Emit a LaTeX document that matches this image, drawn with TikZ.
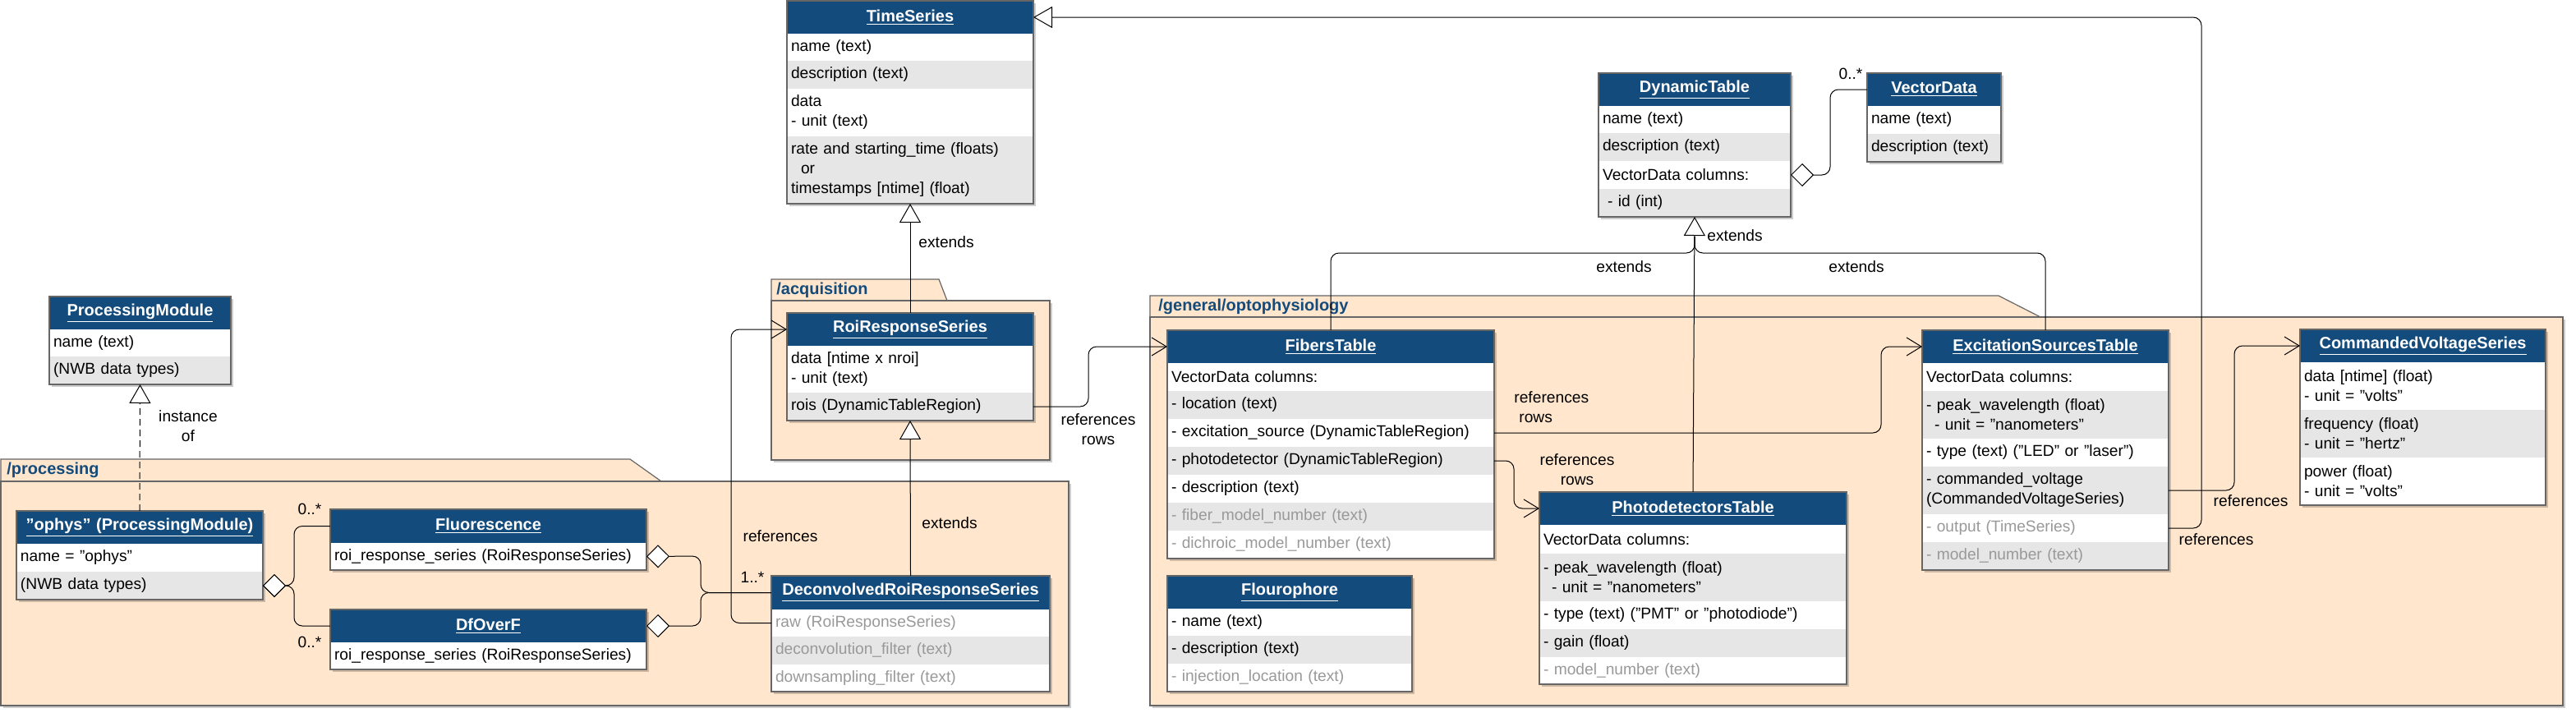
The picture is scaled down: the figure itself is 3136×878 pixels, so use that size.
\documentclass[tikz,border=0pt]{standalone}
\usepackage{fontspec}
\setmainfont{Liberation Sans}
\usetikzlibrary{arrows.meta,calc}
\definecolor{hdrblue}{HTML}{134B7C}
\definecolor{peach}{HTML}{FFE6CC}
\definecolor{rowgray}{HTML}{E6E6E6}
\definecolor{txtgray}{HTML}{999999}
\definecolor{edgegray}{HTML}{666666}
\newcommand\cell[7]{%
 \pgfmathsetlengthmacro\cw{0.5*(#4-#2)-5}%
 \pgfmathsetlengthmacro\ch{0.5*(#5-#3)}%
 \node[cellbase,#6,text width=\cw,minimum height=\ch] (#1) at (#2,#3) {#7};}
\newcommand\boxshadow[4]{\fill[black,opacity=0.2] (#1+3,#2+3) rectangle (#3+3,#4+3);}
\newcommand\boxline[4]{\draw[edgegray,line width=0.6pt] (#1,#2) rectangle (#3,#4);}
\newcommand\hd[1]{\underline{#1}}
\newcommand\bodyfont{\fontsize{9.6}{12}\selectfont\hyphenpenalty=10000 }
\newcommand\headfont{\fontsize{10}{12}\selectfont\bfseries\hyphenpenalty=10000 }
\tikzset{
 cellbase/.style={anchor=north west,inner xsep=2.5pt,inner ysep=0pt,outer sep=0pt,
   font=\bodyfont,align=left},
 hdr/.style={fill=hdrblue,text=white,font=\headfont,align=center},
 wr/.style={fill=white},
 gr/.style={fill=rowgray},
 dim/.style={text=txtgray},
 conn/.style={draw=black,line width=0.5pt,rounded corners=5pt},
 ext/.style={conn,-{Triangle[fill=white,length=11.5pt,width=13pt]}},
 refa/.style={conn,-{Straight Barb[length=9pt,width=11pt]}},
 agg/.style={conn,-{Diamond[fill=white,length=14pt,width=14pt]}},
 lbl/.style={font=\bodyfont,inner sep=0pt,align=center},
 pkgfill/.style={fill=peach,draw=edgegray,line width=0.6pt},
 pkglbl/.style={font=\headfont,text=hdrblue,inner sep=0pt,anchor=west},
}
\begin{document}
\begin{tikzpicture}[x=0.5pt,y=-0.5pt]
\useasboundingbox (0,0) rectangle (3136,878);
% ---------- packages ----------
\fill[black,opacity=0.2] (4,589) rectangle (1304,862);
\draw[pkgfill] (1,586) -- (1,559) -- (767,559) -- (805,586) -- cycle;
\draw[pkgfill] (1,586) rectangle (1301,859);
\node[pkglbl] (pkgproc) at (8,572) {/processing};
\fill[black,opacity=0.2] (942,369) rectangle (1281,563);
\draw[pkgfill] (939,366) -- (939,340) -- (1143,340) -- (1153,366) -- cycle;
\draw[pkgfill] (939,366) rectangle (1278,560);
\node[pkglbl] (pkgacq) at (945,353) {/acquisition};
\fill[black,opacity=0.2] (1403,389) rectangle (3123,862);
\draw[pkgfill] (1400,386) -- (1400,360) -- (2433,360) -- (2484,386) -- cycle;
\draw[pkgfill] (1400,386) rectangle (3120,859);
\node[pkglbl] (pkgopto) at (1410,373) {/general/optophysiology};
% ---------- classes ----------
% ProcessingModule
\boxshadow{60}{361}{281}{468}
\cell{pm-h}{60}{361}{281}{401}{hdr}{\hd{ProcessingModule}}
\cell{pm-1}{60}{401}{281}{434}{wr}{name (text)}
\cell{pm-2}{60}{434}{281}{468}{gr}{(NWB data types)}
\boxline{60}{361}{281}{468}
% ophys
\boxshadow{20}{622}{320}{730}
\cell{oph-h}{20}{622}{320}{662}{hdr}{\hd{"ophys" (ProcessingModule)}}
\cell{oph-1}{20}{662}{320}{696}{wr}{name = "ophys"}
\cell{oph-2}{20}{696}{320}{730}{gr}{(NWB data types)}
\boxline{20}{622}{320}{730}
% Fluorescence
\boxshadow{402}{620}{787}{694}
\cell{fl-h}{402}{620}{787}{661}{hdr}{\hd{Fluorescence}}
\cell{fl-1}{402}{661}{787}{694}{wr}{roi\_response\_series (RoiResponseSeries)}
\boxline{402}{620}{787}{694}
% DfOverF
\boxshadow{402}{742}{787}{815}
\cell{df-h}{402}{742}{787}{782}{hdr}{\hd{DfOverF}}
\cell{df-1}{402}{782}{787}{815}{wr}{roi\_response\_series (RoiResponseSeries)}
\boxline{402}{742}{787}{815}
% DeconvolvedRoiResponseSeries
\boxshadow{939}{701}{1278}{842}
\cell{dec-h}{939}{701}{1278}{742}{hdr}{\hd{DeconvolvedRoiResponseSeries}}
\cell{dec-1}{939}{742}{1278}{775}{wr,dim}{raw (RoiResponseSeries)}
\cell{dec-2}{939}{775}{1278}{809}{gr,dim}{deconvolution\_filter (text)}
\cell{dec-3}{939}{809}{1278}{842}{wr,dim}{downsampling\_filter (text)}
\boxline{939}{701}{1278}{842}
% TimeSeries
\boxshadow{958}{1}{1258}{248}
\cell{ts-h}{958}{1}{1258}{41}{hdr}{\hd{TimeSeries}}
\cell{ts-1}{958}{41}{1258}{74}{wr}{name (text)}
\cell{ts-2}{958}{74}{1258}{108}{gr}{description (text)}
\cell{ts-3}{958}{108}{1258}{166}{wr}{data\\- unit (text)}
\cell{ts-4}{958}{166}{1258}{248}{gr}{rate and starting\_time (floats)\\\hspace*{6pt}or\\timestamps [ntime] (float)}
\boxline{958}{1}{1258}{248}
% RoiResponseSeries
\boxshadow{958}{381}{1258}{512}
\cell{rrs-h}{958}{381}{1258}{421}{hdr}{\hd{RoiResponseSeries}}
\cell{rrs-1}{958}{421}{1258}{478}{wr}{data [ntime x nroi]\\- unit (text)}
\cell{rrs-2}{958}{478}{1258}{512}{gr}{rois (DynamicTableRegion)}
\boxline{958}{381}{1258}{512}
% DynamicTable
\boxshadow{1946}{89}{2180}{264}
\cell{dt-h}{1946}{89}{2180}{129}{hdr}{\hd{DynamicTable}}
\cell{dt-1}{1946}{129}{2180}{162}{wr}{name (text)}
\cell{dt-2}{1946}{162}{2180}{196}{gr}{description (text)}
\cell{dt-3}{1946}{196}{2180}{230}{wr}{VectorData columns:}
\cell{dt-4}{1946}{230}{2180}{264}{gr}{\hspace*{3pt}- id (int)}
\boxline{1946}{89}{2180}{264}
% VectorData
\boxshadow{2273}{89}{2436}{197}
\cell{vd-h}{2273}{89}{2436}{129}{hdr}{\hd{VectorData}}
\cell{vd-1}{2273}{129}{2436}{163}{wr}{name (text)}
\cell{vd-2}{2273}{163}{2436}{197}{gr}{description (text)}
\boxline{2273}{89}{2436}{197}
% FibersTable
\boxshadow{1421}{402}{1819}{680}
\cell{ft-h}{1421}{402}{1819}{442}{hdr}{\hd{FibersTable}}
\cell{ft-1}{1421}{442}{1819}{476}{wr}{VectorData columns:}
\cell{ft-2}{1421}{476}{1819}{510}{gr}{- location (text)}
\cell{ft-3}{1421}{510}{1819}{544}{wr}{- excitation\_source (DynamicTableRegion)}
\cell{ft-4}{1421}{544}{1819}{578}{gr}{- photodetector (DynamicTableRegion)}
\cell{ft-5}{1421}{578}{1819}{612}{wr}{- description (text)}
\cell{ft-6}{1421}{612}{1819}{646}{gr,dim}{- fiber\_model\_number (text)}
\cell{ft-7}{1421}{646}{1819}{680}{wr,dim}{- dichroic\_model\_number (text)}
\boxline{1421}{402}{1819}{680}
% Flourophore
\boxshadow{1421}{701}{1719}{842}
\cell{fp-h}{1421}{701}{1719}{741}{hdr}{\hd{Flourophore}}
\cell{fp-1}{1421}{741}{1719}{774}{wr}{- name (text)}
\cell{fp-2}{1421}{774}{1719}{808}{gr}{- description (text)}
\cell{fp-3}{1421}{808}{1719}{842}{wr,dim}{- injection\_location (text)}
\boxline{1421}{701}{1719}{842}
% PhotodetectorsTable
\boxshadow{1874}{599}{2248}{833}
\cell{pd-h}{1874}{599}{2248}{639}{hdr}{\hd{PhotodetectorsTable}}
\cell{pd-1}{1874}{639}{2248}{674}{wr}{VectorData columns:}
\cell{pd-2}{1874}{674}{2248}{732}{gr}{- peak\_wavelength (float)\\\hspace*{5pt}- unit = "nanometers"}
\cell{pd-3}{1874}{732}{2248}{766}{wr}{- type (text) ("PMT" or "photodiode")}
\cell{pd-4}{1874}{766}{2248}{800}{gr}{- gain (float)}
\cell{pd-5}{1874}{800}{2248}{833}{wr,dim}{- model\_number (text)}
\boxline{1874}{599}{2248}{833}
% ExcitationSourcesTable
\boxshadow{2340}{402}{2640}{694}
\cell{es-h}{2340}{402}{2640}{442}{hdr}{\hd{ExcitationSourcesTable}}
\cell{es-1}{2340}{442}{2640}{476}{wr}{VectorData columns:}
\cell{es-2}{2340}{476}{2640}{534}{gr}{- peak\_wavelength (float)\\\hspace*{5pt}- unit = "nanometers"}
\cell{es-3}{2340}{534}{2640}{568}{wr}{- type (text) ("LED" or "laser")}
\cell{es-4}{2340}{568}{2640}{626}{gr}{- commanded\_voltage\\(CommandedVoltageSeries)}
\cell{es-5}{2340}{626}{2640}{660}{wr,dim}{- output (TimeSeries)}
\cell{es-6}{2340}{660}{2640}{694}{gr,dim}{- model\_number (text)}
\boxline{2340}{402}{2640}{694}
% CommandedVoltageSeries
\boxshadow{2800}{401}{3099}{615}
\cell{cvs-h}{2800}{401}{3099}{441}{hdr}{\hd{CommandedVoltageSeries}}
\cell{cvs-1}{2800}{441}{3099}{499}{wr}{data [ntime] (float)\\- unit = "volts"}
\cell{cvs-2}{2800}{499}{3099}{557}{gr}{frequency (float)\\- unit = "hertz"}
\cell{cvs-3}{2800}{557}{3099}{615}{wr}{power (float)\\- unit = "volts"}
\boxline{2800}{401}{3099}{615}
% ---------- connectors ----------
\coordinate (c-out) at (2680,21);
\coordinate (c-dtj) at (2063,308);
\draw[ext,dash pattern=on 4pt off 2.5pt] (oph-h.north) -- (pm-2.south);
\draw[ext] (rrs-h.north) -- (ts-4.south);
\draw[ext] (dec-h.north) -- (rrs-2.south);
\draw[ext] (es-5.east) -| (c-out) -- (ts-h.east);
\draw[ext] (pd-h.north) -- (dt-4.south);
\draw[conn] (ft-h.north) |- (c-dtj) -- ++(0,-20);
\draw[conn] (es-h.north) |- (c-dtj) -- ++(0,-20);
\draw[agg] (vd-h.west) -| (2228,213) -- (dt-3.east);
\draw[refa] (ft-4.east) -| (1843,619) -- (pd-h.west);
\draw[refa] (ft-3.east) -| (2290,422) -- (es-h.west);
\draw[refa] (rrs-2.east) -| (1325,422) -- (ft-h.west);
\draw[refa] (es-4.east) -| (2720,421) -- (cvs-h.west);
\draw[agg] (fl-h.west) -| (358,713) -- (oph-2.east);
\draw[agg] (df-h.west) -| (358,713) -- (oph-2.east);
\draw[agg] (dec-h.west) -| (853,677) -- (fl-1.east);
\draw[agg] (dec-h.west) -| (853,762) -- (df-h.east);
\draw[refa] (dec-1.west) -| (890,401) -- (rrs-h.west);
% ---------- labels ----------
\node[lbl] (l-inst) at (229,519) {instance\\of};
\node[lbl,anchor=west] (l-ext1) at (1118,295) {extends};
\node[lbl,anchor=west] (l-ext2) at (1122,637) {extends};
\node[lbl] (l-ref1) at (1337,523) {references\\rows};
\node[lbl] (l-ref2) at (950,653) {references};
\node[lbl] (l-m1) at (916,703) {1..*};
\node[lbl] (l-m2) at (377,620) {0..*};
\node[lbl] (l-m3) at (377,782) {0..*};
\node[lbl] (l-ref3) at (1920,572) {references\\rows};
\node[lbl,anchor=west,align=left] (l-ref4) at (1843,496) {references\\\hspace*{3pt}rows};
\node[lbl] (l-ext3) at (1977,325) {extends};
\node[lbl] (l-ext4) at (2260,325) {extends};
\node[lbl,anchor=west] (l-ext5) at (2078,287) {extends};
\node[lbl] (l-m4) at (2253,90) {0..*};
\node[lbl] (l-ref5) at (2740,610) {references};
\node[lbl] (l-ref6) at (2698,657) {references};
\end{tikzpicture}
\end{document}
